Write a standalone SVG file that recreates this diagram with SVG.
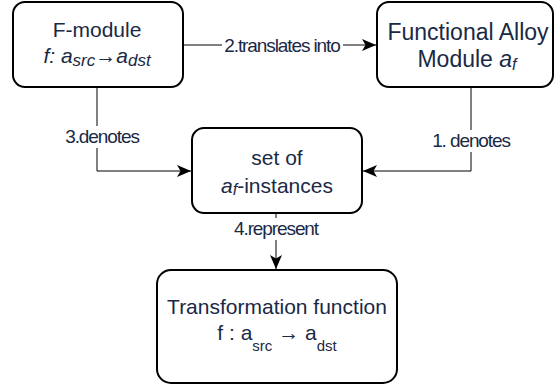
<svg xmlns="http://www.w3.org/2000/svg" width="555" height="385" viewBox="0 0 555 385">
  <style>
    .box { fill: #ffffff; stroke: #000000; stroke-width: 2; }
    .txt { font-family: "Liberation Sans", Arial, sans-serif; font-size: 21px; fill: #1a2945; text-anchor: middle; }
    .big { font-size: 23px; }
    .it { font-style: italic; }
    .edge { fill: none; stroke: #000000; stroke-width: 1; marker-end: url(#arrow); }
    .lbl { font-family: "Liberation Sans", Arial, sans-serif; font-size: 19px; fill: #1a2945; text-anchor: middle; letter-spacing: -1.1px; }
    .lblbg { fill: #ffffff; }
  </style>
  <defs>
    <marker id="arrow" viewBox="0 0 14 12" refX="14" refY="6" markerWidth="14" markerHeight="12" markerUnits="userSpaceOnUse" orient="auto">
      <path d="M0,0 L14,6 L0,12 L3.5,6 Z" fill="#000000"/>
    </marker>
  </defs>
  <rect width="555" height="385" fill="#ffffff"/>

  <!-- connectors -->
  <g id="connectors">
    <path class="edge" d="M183,45 L376,45"/>
    <rect class="lblbg" x="222" y="34" width="121" height="22"/>
    <text class="lbl" x="282" y="52">2.translates into</text>

    <path class="edge" d="M97,87 L97,171 L191,171"/>
    <rect class="lblbg" x="64" y="126" width="77" height="22"/>
    <text class="lbl" x="102" y="143">3.denotes</text>

    <path class="edge" d="M471,87 L471,171 L363,171"/>
    <rect class="lblbg" x="431" y="130" width="81" height="22"/>
    <text class="lbl" x="471" y="147">1. denotes</text>

    <path class="edge" d="M276,213 L276,269"/>
    <rect class="lblbg" x="232" y="218" width="88" height="22"/>
    <text class="lbl" x="276" y="235">4.represent</text>
  </g>

  <!-- F-module -->
  <g id="f-module">
    <rect class="box" x="13" y="2" width="170" height="85" rx="12" ry="12"/>
    <text class="txt" x="97" y="37">F-module</text>
    <text class="txt it" x="97" y="63">f: a<tspan font-size="17" dy="3">src</tspan><tspan dy="-3" font-style="normal">→</tspan>a<tspan font-size="17" dy="3">dst</tspan></text>
  </g>

  <!-- Functional Alloy Module -->
  <g id="alloy-module">
    <rect class="box" x="377" y="2" width="176" height="85" rx="12" ry="12"/>
    <text class="txt big" x="468" y="40">Functional Alloy</text>
    <text class="txt big" x="467" y="67">Module <tspan class="it">a</tspan><tspan class="it" font-size="16" dy="3">f</tspan></text>
  </g>

  <!-- set of instances -->
  <g id="instances">
    <rect class="box" x="192" y="128" width="170" height="85" rx="12" ry="12"/>
    <text class="txt" x="277" y="165">set of</text>
    <text class="txt" x="277" y="193"><tspan class="it">a</tspan><tspan class="it" font-size="16" dy="2">f</tspan><tspan dy="-2">-instances</tspan></text>
  </g>

  <!-- transformation function -->
  <g id="transformation">
    <rect class="box" x="157" y="270" width="240" height="113" rx="14" ry="14"/>
    <text class="txt" x="277" y="314">Transformation function</text>
    <text class="txt" x="277" y="340">f : a<tspan font-size="15" dy="11">src</tspan><tspan dy="-11"> → a</tspan><tspan font-size="15" dy="11">dst</tspan></text>
  </g>
</svg>
